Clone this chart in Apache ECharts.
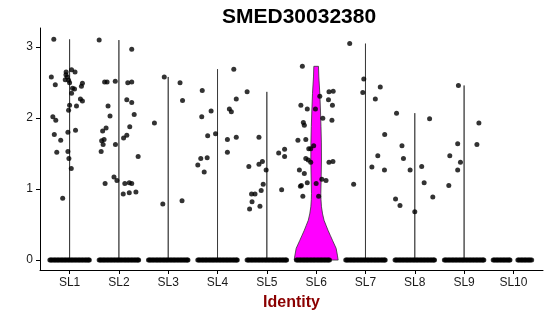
<!DOCTYPE html>
<html>
<head>
<meta charset="utf-8">
<script src="https://cdn.jsdelivr.net/npm/echarts@6/dist/echarts.min.js"></script>
<style>
  html, body { margin: 0; padding: 0; background: #fff; }
  #chart { width: 550px; height: 316px; }
</style>
</head>
<body>
<div id="chart"></div>
<script>
const categories = ['SL1', 'SL2', 'SL3', 'SL4', 'SL5', 'SL6', 'SL7', 'SL8', 'SL9', 'SL10']
const yTicks = [0, 1, 2, 3]

// non-zero cells per identity: [jitter offset, expression]
const sl1 = [[-0.32, 3.11], [-0.37, 2.58], [-0.29, 2.47], [-0.07, 2.65], [-0.074, 2.61], [-0.047, 2.58], [-0.088, 2.54], [-0.02, 2.535], [0.04, 2.68], [0.11, 2.65], [0.0, 2.50], [0.06, 2.42], [0.10, 2.41], [0.04, 2.35], [0.26, 2.49], [0.24, 2.45], [0.22, 2.27], [0.26, 2.24], [0.14, 2.17], [0.0, 2.18], [-0.02, 2.11], [-0.34, 2.02], [-0.28, 1.97], [-0.31, 1.77], [-0.18, 1.69], [-0.034, 1.80], [0.12, 1.83], [-0.26, 1.52], [-0.034, 1.53], [-0.014, 1.43], [0.034, 1.29], [-0.14, 0.87]]
const sl2 = [[-0.40, 3.10], [0.26, 2.97], [-0.29, 2.51], [-0.24, 2.51], [-0.074, 2.52], [0.18, 2.50], [0.26, 2.51], [0.16, 2.26], [0.26, 2.22], [-0.22, 2.17], [-0.18, 2.03], [0.31, 2.05], [0.22, 1.88], [-0.26, 1.86], [-0.33, 1.82], [0.16, 1.76], [0.095, 1.72], [-0.30, 1.70], [-0.35, 1.68], [-0.32, 1.63], [-0.07, 1.63], [-0.36, 1.53], [0.39, 1.46], [-0.10, 1.17], [-0.04, 1.12], [-0.28, 1.08], [0.12, 1.08], [0.21, 1.09], [0.26, 1.08], [0.088, 0.93], [0.21, 0.95], [0.345, 0.96]]
const sl3 = [[-0.08, 2.58], [0.24, 2.50], [0.29, 2.25], [-0.28, 1.93], [-0.11, 0.79], [0.28, 0.835]]
const sl4 = [[0.33, 2.69], [0.38, 2.27], [-0.31, 2.39], [-0.13, 2.10], [0.24, 2.13], [0.28, 2.09], [-0.32, 2.02], [-0.04, 1.78], [-0.20, 1.75], [0.20, 1.70], [0.38, 1.73], [0.20, 1.52], [-0.34, 1.43], [-0.21, 1.44], [-0.40, 1.34], [-0.27, 1.24]]
const sl5 = [[-0.40, 2.37], [-0.16, 1.73], [-0.365, 1.32], [-0.16, 1.35], [-0.09, 1.39], [-0.014, 1.27], [-0.074, 1.07], [-0.115, 0.98], [-0.31, 0.93], [-0.24, 0.93], [-0.30, 0.82], [-0.14, 0.76], [-0.35, 0.72], [0.24, 1.51], [0.36, 1.56], [0.36, 1.46], [0.30, 0.99]]
const sl6 = [[-0.28, 2.73], [0.074, 2.31], [0.26, 2.37], [0.345, 2.38], [0.25, 2.26], [-0.31, 2.18], [-0.18, 2.13], [-0.014, 2.13], [0.33, 2.18], [0.135, 2.00], [0.32, 1.97], [-0.26, 1.94], [-0.24, 1.90], [-0.37, 1.69], [-0.21, 1.70], [-0.05, 1.61], [-0.15, 1.57], [-0.11, 1.57], [-0.21, 1.43], [-0.16, 1.41], [-0.11, 1.38], [0.26, 1.38], [0.34, 1.39], [-0.34, 1.27], [-0.24, 1.22], [0.115, 1.14], [0.20, 1.12], [-0.18, 1.09], [0.0, 1.08], [-0.30, 1.05], [-0.32, 1.04], [0.05, 0.90], [-0.27, 0.90]]
const sl7 = [[-0.32, 3.05], [-0.034, 2.55], [-0.054, 2.36], [0.30, 2.44], [0.20, 2.27], [0.39, 1.77], [0.25, 1.47], [0.13, 1.31], [0.385, 1.27], [-0.24, 1.07]]
const sl8 = [[-0.37, 2.07], [0.30, 1.99], [-0.26, 1.61], [-0.23, 1.43], [-0.095, 1.27], [0.14, 1.32], [0.19, 1.09], [0.365, 0.89], [-0.39, 0.86], [-0.30, 0.77], [0.0, 0.68]]
const sl9 = [[-0.115, 2.46], [0.30, 1.93], [-0.13, 1.64], [0.26, 1.63], [-0.29, 1.47], [-0.074, 1.38], [-0.13, 1.27], [-0.31, 1.05]]
const sl10 = []

// jitter offsets of the cells at 0 (dense enough to merge into a bar)
const zeroJitter = [-0.40, -0.38, -0.36, -0.335, -0.31, -0.29, -0.265, -0.24, -0.22, -0.195, -0.17, -0.15, -0.125, -0.10, -0.08, -0.055, -0.03, -0.01, 0.015, 0.04, 0.06, 0.085, 0.11, 0.13, 0.155, 0.18, 0.20, 0.225, 0.25, 0.27, 0.295, 0.32, 0.34, 0.365, 0.385, 0.40]
const zeroJitterSL6 = [-0.40, -0.38, -0.355, -0.33, -0.31, -0.285, -0.26, -0.24, -0.215, -0.19, -0.17, -0.145, -0.12, -0.10, -0.075, -0.05, -0.03, -0.005, 0.02, 0.04, 0.065, 0.09, 0.11, 0.135, 0.16, 0.18, 0.205, 0.23, 0.25, 0.27]
const zeroJitterSL10 = [-0.41, -0.39, -0.365, -0.34, -0.32, -0.295, -0.27, -0.25, -0.225, -0.20, -0.18, -0.155, -0.13, -0.11, -0.085, -0.07, 0.09, 0.11, 0.135, 0.16, 0.18, 0.205, 0.23, 0.25, 0.275, 0.30, 0.32, 0.345, 0.37]

// violin outlines: thin ones only reach the max value, SL6 has a real shape [value, half width]
const violinMax = [3.11, 3.10, 2.58, 2.69, 2.37, 2.73, 3.05, 2.07, 2.46, 0]
const sl6Violin = [[0, 0.446], [0.07, 0.43], [0.165, 0.405], [0.28, 0.33], [0.35, 0.285], [0.42, 0.24], [0.49, 0.20], [0.56, 0.16], [0.65, 0.13], [0.75, 0.108], [0.85, 0.098], [0.94, 0.095], [1.1, 0.10], [1.41, 0.108], [1.65, 0.106], [1.88, 0.098], [2.1, 0.088], [2.35, 0.074], [2.58, 0.054], [2.73, 0.047]]
const violinFill = [null, null, null, null, null, '#FF00FF', null, null, null, null]

const groups = [sl1, sl2, sl3, sl4, sl5, sl6, sl7, sl8, sl9, sl10]
const zeroSets = groups.map((g, i) => i === 5 ? zeroJitterSL6 : i === 9 ? zeroJitterSL10 : zeroJitter)

const points = []
groups.forEach((g, i) => {
  zeroSets[i].forEach(off => points.push([i + 1 + off, 0]))
  g.forEach(([off, v]) => points.push([i + 1 + off, v]))
})

const profiles = violinMax.map((m, i) => {
  if (i === 5) return sl6Violin
  return m > 0 ? [[0, 0], [m, 0]] : []
})

function renderViolin(params, api) {
  const i = params.dataIndex
  const prof = profiles[i]
  if (!prof.length) return null
  const pts = []
  prof.forEach(([v, w]) => pts.push(api.coord([i + 1 + w, v])))
  for (let k = prof.length - 1; k >= 0; k--) {
    pts.push(api.coord([i + 1 - prof[k][1], prof[k][0]]))
  }
  return {
    type: 'polygon',
    shape: { points: pts },
    style: { fill: violinFill[i] || 'none', stroke: '#333', lineWidth: 0.8 }
  }
}

const chart = echarts.init(document.getElementById('chart'), null, { renderer: 'canvas' })
chart.setOption({
  animation: false,
  textStyle: { fontFamily: 'Liberation Sans, Arial, sans-serif' },
  title: {
    text: 'SMED30032380',
    left: 217,
    top: 2,
    textStyle: { fontSize: 21, fontWeight: 'bold', color: '#000', fontFamily: 'Liberation Sans, Arial, sans-serif' }
  },
  grid: { left: 40, right: 7, top: 28, bottom: 46, containLabel: false, outerBoundsMode: 'none' },
  xAxis: {
    type: 'value',
    min: 0.4,
    max: 10.6,
    name: 'Identity',
    nameLocation: 'middle',
    nameGap: 25,
    nameTextStyle: { fontSize: 16, fontWeight: 'bold', color: '#8B0000' },
    splitLine: { show: false },
    axisLine: { onZero: false, lineStyle: { color: '#000', width: 1 } },
    axisTick: { customValues: [1, 2, 3, 4, 5, 6, 7, 8, 9, 10], length: 4, lineStyle: { color: '#000' } },
    axisLabel: {
      customValues: [1, 2, 3, 4, 5, 6, 7, 8, 9, 10],
      formatter: v => categories[Math.round(v) - 1],
      fontSize: 12,
      color: '#1a1a1a',
      margin: 7
    }
  },
  yAxis: {
    type: 'value',
    min: -0.14,
    max: 3.27,
    splitLine: { show: false },
    axisLine: { show: true, onZero: false, lineStyle: { color: '#000', width: 1 } },
    axisTick: { show: true, customValues: yTicks, length: 4, lineStyle: { color: '#000' } },
    axisLabel: { customValues: yTicks, fontSize: 12, color: '#1a1a1a', margin: 7 }
  },
  series: [
    {
      type: 'custom',
      renderItem: renderViolin,
      data: categories.map((c, i) => [i + 1, 0]),
      encode: { x: 0, y: 1 },
      silent: true,
      z: 1
    },
    {
      type: 'scatter',
      data: points,
      symbol: 'circle',
      symbolSize: 5,
      itemStyle: { color: '#000' },
      silent: true,
      z: 2
    }
  ]
})
</script>
</body>
</html>
